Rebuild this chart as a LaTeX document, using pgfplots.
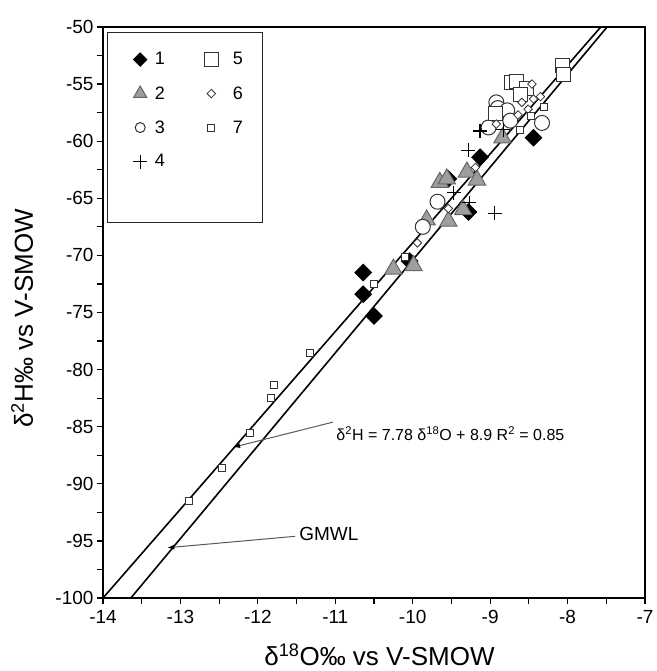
\documentclass[border=0pt]{standalone}
\usepackage{fontspec}
\setmainfont{Liberation Sans}
\usepackage{pgfplots}
\pgfplotsset{compat=1.18}
\usetikzlibrary{arrows.meta}
\definecolor{trifill}{gray}{0.62}

\pgfplotsset{
  legend image code/.code={
    \draw[#1] plot coordinates {(0pt,0pt)};
    \path (-14pt,0pt) (8pt,0pt);
  },
}

\begin{document}
\begin{tikzpicture}
\begin{axis}[
  scale only axis,
  width=542pt, height=571pt,
  xmin=-14, xmax=-7, ymin=-100, ymax=-50,
  xtick={-14,-13,...,-7},
  xticklabels={-14,-13,-12,-11,-10,-9,-8,-7},
  ytick={-100,-95,...,-50},
  yticklabels={-100,-95,-90,-85,-80,-75,-70,-65,-60,-55,-50},
  minor x tick num=1, minor y tick num=1,
  tick pos=left, tick align=outside,
  major tick length=6pt, minor tick length=6pt,
  every tick/.style={black, line width=1.2pt},
  axis line style={line width=1.6pt},
  tick label style={font=\fontsize{19}{22}\selectfont},
  xticklabel style={yshift=-3pt},
  xlabel={δ\textsuperscript{18}O‰ vs V-SMOW},
  ylabel={δ\textsuperscript{2}H‰ vs V-SMOW},
  label style={font=\fontsize{26}{30}\selectfont},
  xlabel style={at={(axis description cs:0.51,-0.0998)}, anchor=center},
  ylabel style={at={(axis description cs:-0.149,0.49)}, anchor=center},
  legend columns=5, transpose legend,
  legend cell align=left,
  legend style={at={(0,1)}, anchor=north west, xshift=4pt, yshift=-5pt,
    draw=black!85, line width=1.2pt, font=\fontsize{18}{21}\selectfont,
    inner xsep=18pt, inner ysep=18pt, row sep=16pt,
    /tikz/column 1/.style={column sep=4pt},
    /tikz/column 2/.style={column sep=30pt},
    /tikz/column 3/.style={column sep=11pt}},
  clip=false,
]

%% 1: black diamonds
\addplot[only marks, mark=square*, mark size=5.8pt, line width=1pt,
  mark options={rotate=45, fill=black, draw=black},
  legend image post style={scale=0.8}] coordinates {
  (-10.64,-71.5) (-10.64,-73.4) (-10.50,-75.3) (-10.04,-70.5)
  (-9.54,-63.3) (-9.28,-66.2) (-9.13,-61.4) (-8.44,-59.7)
};
\addlegendentry{1}

%% 2: grey triangles
\addplot[only marks, mark=triangle*, mark size=10pt, line width=1pt,
  mark options={fill=trifill, draw=black!60},
  legend image post style={scale=0.75}] coordinates {
  (-10.25,-71.2) (-9.99,-70.9) (-9.82,-66.9) (-9.54,-67.0)
  (-9.65,-63.6) (-9.56,-63.3) (-9.30,-62.7) (-9.35,-66.0)
  (-9.17,-63.4) (-8.84,-59.7)
};
\addlegendentry{2}

%% 3: open circles
\addplot[only marks, mark=*, mark size=7.5pt, line width=1pt,
  mark options={fill=white, draw=black!80},
  legend image post style={scale=0.67}] coordinates {
  (-9.87,-67.5) (-9.68,-65.3) (-9.02,-58.8) (-8.92,-56.6)
  (-8.90,-57.1) (-8.78,-57.3) (-8.74,-58.2) (-8.33,-58.4)
};
\addlegendentry{3}

%% 4: plus
\addplot[only marks, mark=+, mark size=7pt, line width=1.2pt,
  mark options={draw=black}] coordinates {
  (-9.13,-59.1) (-8.83,-59.0) (-9.28,-60.8) (-8.94,-66.3)
  (-9.47,-64.5) (-9.27,-65.4)
};
\addlegendentry{4}

\addlegendimage{empty legend}
\addlegendentry{\phantom{1}}

%% 5: large open squares
\addplot[only marks, mark=square*, mark size=7pt, line width=1pt,
  mark options={fill=white, draw=black!80}] coordinates {
  (-8.72,-54.9) (-8.66,-54.8) (-8.53,-55.4) (-8.61,-55.9)
  (-8.93,-57.6) (-8.07,-53.4) (-8.05,-54.2)
};
\addlegendentry{5}

%% 6: small open diamonds
\addplot[only marks, mark=square*, mark size=3pt, line width=0.8pt,
  mark options={rotate=45, fill=white, draw=black!80}] coordinates {
  (-9.94,-68.9) (-9.54,-65.9) (-9.19,-62.3) (-8.64,-57.7)
  (-8.59,-56.6) (-8.51,-57.2) (-8.44,-56.3) (-8.46,-55.0)
  (-8.35,-56.1) (-8.92,-58.5)
};
\addlegendentry{6}

%% 7: small open squares
\addplot[only marks, mark=square*, mark size=3.5pt, line width=0.8pt,
  mark options={fill=white, draw=black!80}] coordinates {
  (-12.89,-91.5) (-12.46,-88.6) (-12.10,-85.5) (-11.83,-82.5)
  (-11.79,-81.3) (-11.33,-78.5) (-10.50,-72.5) (-10.10,-70.1)
  (-8.61,-59.0) (-8.48,-57.8) (-8.30,-57.0)
};
\addlegendentry{7}

\addlegendimage{empty legend}
\addlegendentry{\phantom{1}}
\addlegendimage{empty legend}
\addlegendentry{\phantom{1}}

%% fitted line and GMWL
\addplot[forget plot, black, line width=1.6pt] coordinates {(-14,-100) (-7.571,-50)};
\addplot[forget plot, black, line width=1.6pt] coordinates {(-13.64,-100) (-7.49,-50)};

%% annotations
\draw[black!65, line width=1pt, -{Latex[length=7pt, width=5pt, black]}]
  (axis cs:-11.03,-84.6) -- (axis cs:-12.32,-86.8);
\node[anchor=west, font=\fontsize{16}{19}\selectfont, inner sep=1pt]
  at (axis cs:-11.0,-85.6)
  {δ\textsuperscript{2}H = 7.78 δ\textsuperscript{18}O + 8.9 R\textsuperscript{2} = 0.85};
\draw[black!65, line width=1pt, -{Latex[length=7pt, width=5pt, black]}]
  (axis cs:-11.52,-94.6) -- (axis cs:-13.17,-95.6);
\node[anchor=west, font=\fontsize{19}{22}\selectfont, inner sep=1pt]
  at (axis cs:-11.48,-94.4) {GMWL};

\end{axis}
\pgfresetboundingbox
\path[use as bounding box] (current axis.south west) ++(-103pt,-73pt) rectangle ++(656pt,671pt);
\end{tikzpicture}
\end{document}
